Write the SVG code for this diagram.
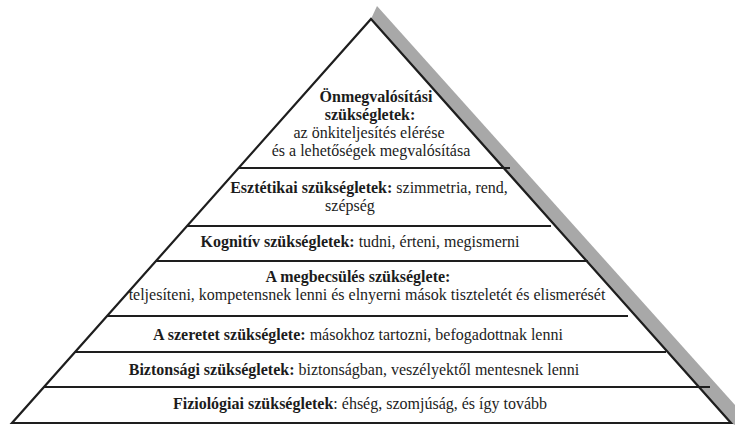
<svg xmlns="http://www.w3.org/2000/svg" width="735" height="427" viewBox="0 0 735 427">
<style>
text{font-family:"Liberation Serif","DejaVu Serif",serif;fill:#1c1c1c;text-anchor:middle}
tspan.bb{font-weight:bold;font-size:16px}
tspan.rr{font-size:16px}
.ln{stroke:#1e1e1e;stroke-width:2.2;fill:none}
</style>
<rect width="735" height="427" fill="#ffffff"/>
<g id="shadow">
<polygon points="371,19 377,6 735,405 735,425 731,423" fill="#a8a8a8"/>
</g>
<g id="dividers">
<line class="ln" x1="239" y1="168" x2="510" y2="168"/>
<line class="ln" x1="187" y1="226" x2="551" y2="226"/>
<line class="ln" x1="156" y1="261" x2="588" y2="261"/>
<line class="ln" x1="107" y1="316" x2="628" y2="316"/>
<line class="ln" x1="75" y1="352" x2="666" y2="352"/>
<line class="ln" x1="44" y1="387" x2="710" y2="387"/>
</g>
<g id="outline">
<polygon class="ln" points="371,19 731,423 12,423" stroke-width="2.6" stroke-linejoin="miter"/>
</g>
<g id="level7">
<text font-family="Liberation Serif, serif" x="376" y="102"><tspan class="bb">Önmegvalósítási</tspan></text>
<text font-family="Liberation Serif, serif" x="370" y="120"><tspan class="bb">szükségletek:</tspan></text>
<text font-family="Liberation Serif, serif" x="369" y="138"><tspan class="rr">az önkiteljesítés elérése</tspan></text>
<text font-family="Liberation Serif, serif" x="371" y="156"><tspan class="rr">és a lehetőségek megvalósítása</tspan></text>
</g>
<g id="level6">
<text font-family="Liberation Serif, serif" x="369" y="193"><tspan class="bb">Esztétikai szükségletek:</tspan><tspan class="rr"> szimmetria, rend,</tspan></text>
<text font-family="Liberation Serif, serif" x="350" y="211"><tspan class="rr">szépség</tspan></text>
</g>
<g id="level5">
<text font-family="Liberation Serif, serif" x="360" y="247"><tspan class="bb">Kognitív szükségletek:</tspan><tspan class="rr"> tudni, érteni, megismerni</tspan></text>
</g>
<g id="level4">
<text font-family="Liberation Serif, serif" x="358" y="282"><tspan class="bb">A megbecsülés szükséglete:</tspan></text>
<text font-family="Liberation Serif, serif" x="367" y="300"><tspan class="rr">teljesíteni, kompetensnek lenni és elnyerni mások tiszteletét és elismerését</tspan></text>
</g>
<g id="level3">
<text font-family="Liberation Serif, serif" x="358" y="340"><tspan class="bb">A szeretet szükséglete:</tspan><tspan class="rr"> másokhoz tartozni, befogadottnak lenni</tspan></text>
</g>
<g id="level2">
<text font-family="Liberation Serif, serif" x="354" y="375"><tspan class="bb">Biztonsági szükségletek:</tspan><tspan class="rr"> biztonságban, veszélyektől mentesnek lenni</tspan></text>
</g>
<g id="level1">
<text font-family="Liberation Serif, serif" x="360" y="409"><tspan class="bb">Fiziológiai szükségletek</tspan><tspan class="rr">: éhség, szomjúság, és így tovább</tspan></text>
</g>
</svg>
